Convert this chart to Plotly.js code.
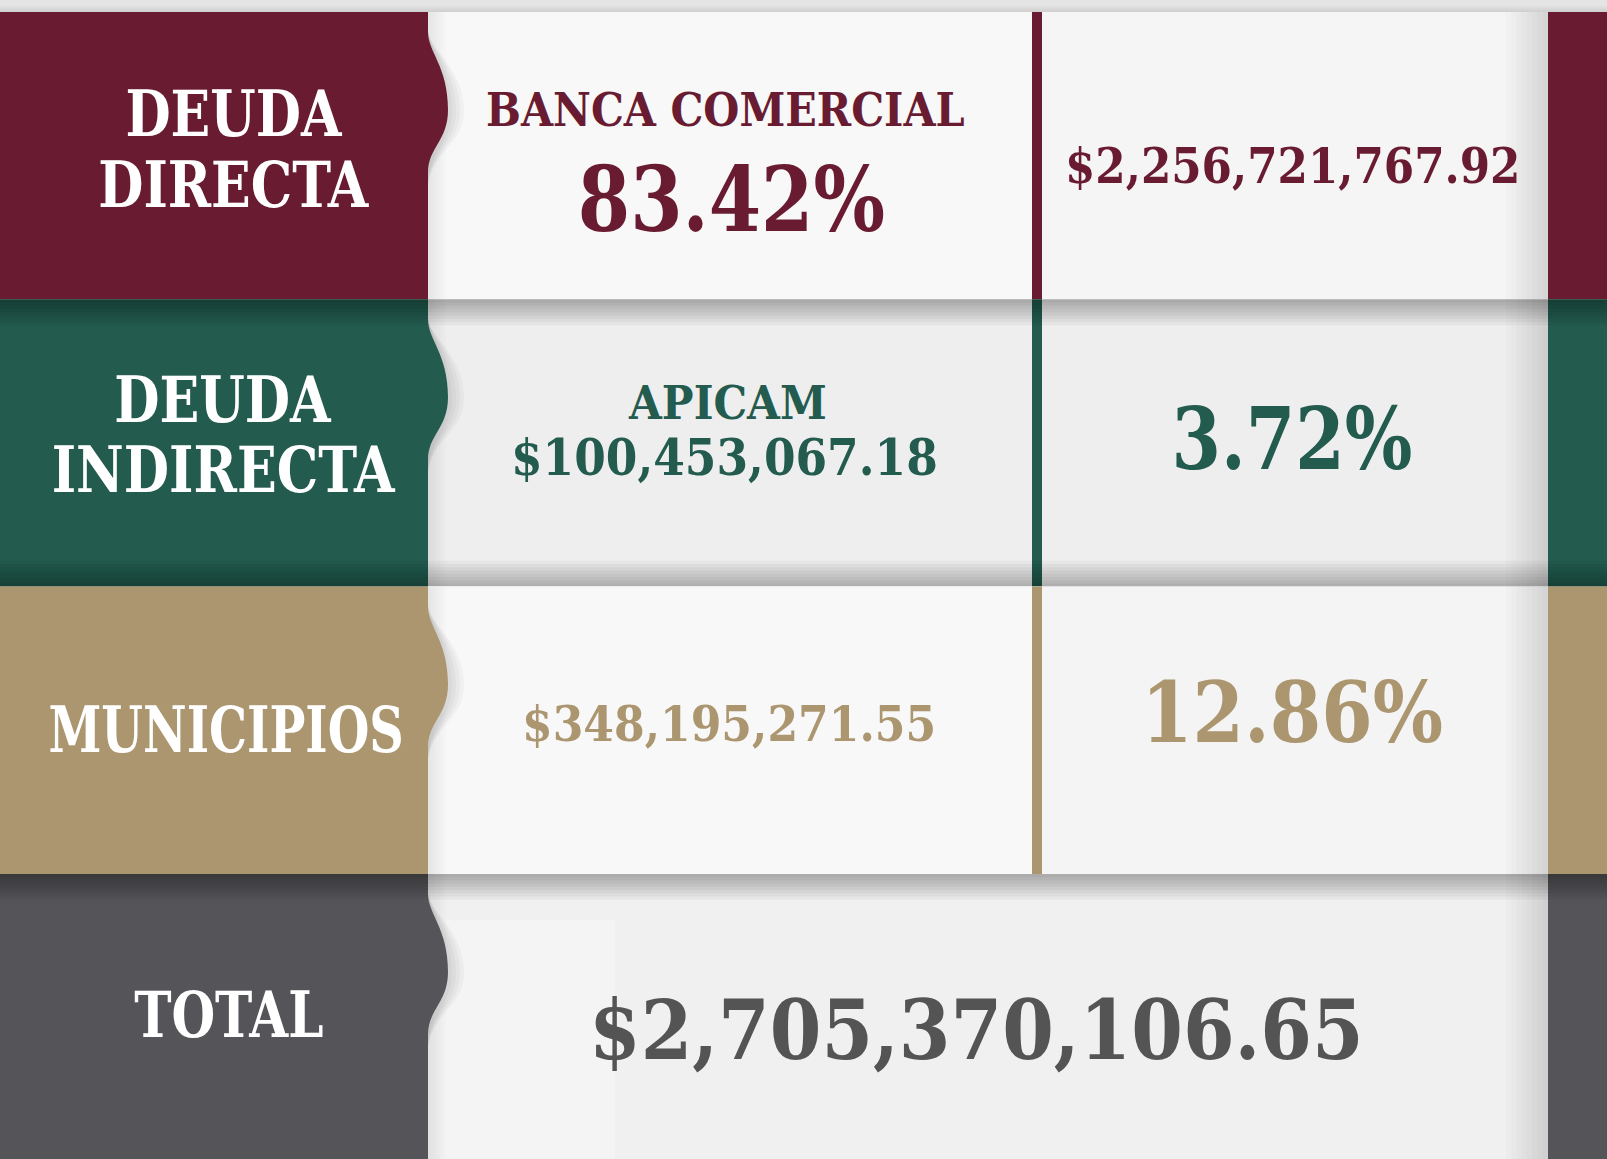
<!DOCTYPE html>
<html><head><meta charset="utf-8">
<script src="https://cdn.plot.ly/plotly-3.0.1.min.js"></script>
<style>html,body{margin:0;padding:0;background:#f4f4f4;overflow:hidden}</style>
</head><body><div id="chart" style="width:1607px;height:1159px"></div>
<script>
// ---- data ----
const categories = ["DEUDA<br>DIRECTA", "DEUDA<br>INDIRECTA", "MUNICIPIOS", "TOTAL"];
const sources = ["BANCA COMERCIAL", "APICAM", "", ""];
const amounts = [2256721767.92, 100453067.18, 348195271.55];
const totalAmount = 2705370106.65;
const shares = [83.42, 3.72, 12.86];
const rowColors = ["#691B31", "#235B4E", "#AC9670", "#545459"];
const totalColor = "#545454";

// ---- helpers ----
const FONT = "DejaVu Serif Condensed, DejaVu Serif, serif";
const money = v => "$" + v.toLocaleString("en-US", {minimumFractionDigits: 2, maximumFractionDigits: 2});
const pct = v => v.toFixed(2) + "%";

const ROWH = 287.3, TOP = 12, W = 1607, H = 1159;
const U = px => (px - TOP) / ROWH;
const XL = 428, XD0 = 1032, XD1 = 1042, XR = 1548;

const shapes = [];
const rect = (x0, x1, y0, y1, fill) => shapes.push({type: "rect", xref: "x", yref: "y", x0, x1, y0, y1, fillcolor: fill, line: {width: 0}, layer: "below"});
function vgrad(x0, x1, edge, len, dir, alpha, n) {
  for (let k = 1; k <= n; k++) {
    const e = edge + dir * len * k / n;
    rect(x0, x1, Math.min(edge, e), Math.max(edge, e), `rgba(0,0,0,${alpha})`);
  }
}
function hgrad(edge, len, dir, y0, y1, alpha, n) {
  for (let k = 1; k <= n; k++) {
    const e = edge + dir * len * k / n;
    rect(Math.min(edge, e), Math.max(edge, e), y0, y1, `rgba(0,0,0,${alpha})`);
  }
}

const yTopAll = U(0), yBotAll = U(H);
rect(0, W, yTopAll, 0, "#E4E4E4");
vgrad(0, W, 0, U(TOP + 6), -1, 0.015, 5);

const whites = ["#F5F5F5", "#EEEEEE", "#F4F4F4", "#F0F0F0"];
categories.forEach((c, i) => {
  const y0 = i, y1 = i === 3 ? yBotAll : i + 1;
  rect(XL, XR, y0, y1, whites[i]);
  if (i === 0 || i === 2) rect(XL, XD0, y0, y1, "#F8F8F8");
  if (i === 3) rect(XL, 615, y0 + 0.16, y1, "#F4F4F4");
  rect(XR, W, y0, y1, rowColors[i]);
  if (i < 3) rect(XD0, XD1, y0, y1, rowColors[i]);
  hgrad(XR, 42, -1, y0, y1, 0.014, 8);
  hgrad(XL, 18, 1, y0, y1, 0.01, 6);
  for (let s = 1; s <= 4; s++) {
    const d = s * 4;
    shapes.push({type: "path", xref: "x", yref: "y", layer: "below", line: {width: 0}, fillcolor: "rgba(0,0,0,0.03)",
      path: `M${XL},${y0 + 0.06} C${XL},${y0 + 0.13} ${448 + d},${y0 + 0.19} ${448 + d},${y0 + 0.345} C${448 + d},${y0 + 0.46} ${XL + d * 0.4},${y0 + 0.48} ${XL},${y0 + 0.6} Z`});
  }
  shapes.push({type: "path", xref: "x", yref: "y", layer: "below", line: {width: 0}, fillcolor: rowColors[i],
    path: `M0,${y0} L${XL},${y0} L${XL},${y0 + 0.07} C${XL},${y0 + 0.14} 448,${y0 + 0.19} 448,${y0 + 0.34} C448,${y0 + 0.45} ${XL},${y0 + 0.47} ${XL},${y0 + 0.56} L${XL},${y1} L0,${y1} Z`});
  if (i === 1 || i === 3) {
    vgrad(0, W, y0, 0.09, 1, 0.04, 8);
    if (i === 1) vgrad(0, W, y1, 0.09, -1, 0.035, 8);
  }
});

// ---- annotations ----
const ann = [], squeeze = [];
const txt = (x, yUnit, text, size, color, sx) => {
  ann.push({xref: "x", yref: "y", x, y: yUnit, text, showarrow: false,
    xanchor: "center", yanchor: "middle", font: {family: FONT, size, color, weight: 700}});
  squeeze.push(sx || 1);
};

const labelLines = [[0.352, 0.602], [0.350, 0.594], [0.499], [0.491]];
const labelX = [234, 223, 226, 229];
const labelSqueeze = [0.905, 0.907, 0.83, 0.87];
categories.forEach((c, i) => {
  c.split("<br>").forEach((line, j) => txt(labelX[i], i + labelLines[i][j], line, 64, "#FFFFFF", labelSqueeze[i]));
});

const XM = 727, XRC = 1292;
txt(XM - 2, 0 + 0.341, sources[0], 46, rowColors[0], 1.0);
txt(XM + 4, 0 + 0.651, pct(shares[0]), 89, rowColors[0], 0.94);
txt(XRC, 0 + 0.536, money(amounts[0]), 48.5, rowColors[0], 1.0);
txt(XM, 1 + 0.36, sources[1], 47, rowColors[1], 1.0);
txt(XM - 3, 1 + 0.552, money(amounts[1]), 50.5, rowColors[1], 1.0);
txt(XRC, 1 + 0.483, pct(shares[1]), 86, rowColors[1], 0.92);
txt(XM + 2, 2 + 0.478, money(amounts[2]), 49, rowColors[2], 1.0);
txt(XRC, 2 + 0.437, pct(shares[2]), 85, rowColors[2], 0.967);
txt(976, 3 + 0.543, money(totalAmount), 82.5, totalColor, 1.0);

const layout = {
  width: W, height: H, margin: {l: 0, r: 0, t: 0, b: 0},
  paper_bgcolor: "#F4F4F4", plot_bgcolor: "#F4F4F4",
  xaxis: {range: [0, W], visible: false, fixedrange: true},
  yaxis: {range: [yBotAll, yTopAll], visible: false, fixedrange: true},
  shapes, annotations: ann, showlegend: false
};
Plotly.newPlot("chart", [{type: "scatter", x: [], y: [], hoverinfo: "skip"}], layout, {staticPlot: true}).then(() => {
  document.querySelectorAll("#chart .annotation").forEach(g => {
    const s = squeeze[+g.getAttribute("data-index")];
    const t = g.querySelector("text");
    if (t && s !== 1) {
      t.style.transformBox = "fill-box";
      t.style.transformOrigin = "center";
      t.style.transform = `scaleX(${s})`;
    }
  });
});
</script></body></html>
